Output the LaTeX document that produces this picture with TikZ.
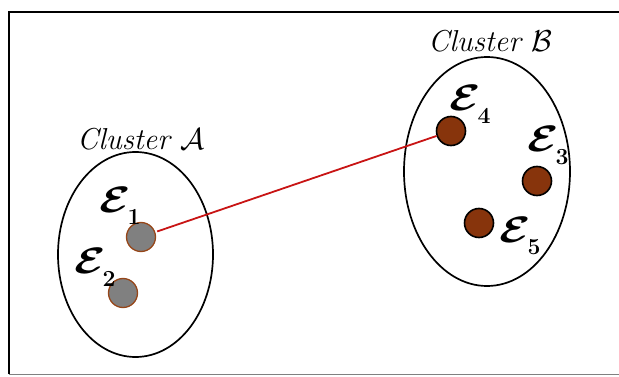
\RequirePackage{fix-cm}
\documentclass[tikz,border=0pt]{standalone}
\usepackage{amsmath,bm,graphicx}
\definecolor{dotgray}{RGB}{128,128,128}
\definecolor{dotrim}{RGB}{150,70,25}
\definecolor{dotbrown}{RGB}{135,52,12}
\definecolor{linkred}{RGB}{200,20,20}
\newcommand{\elabel}[1]{\fontsize{35}{35}\selectfont\scalebox{1.3}[1.05]{$\bm{\mathcal{E}}$}\kern-3pt\raisebox{-13pt}{\fontsize{23}{23}\selectfont$\bm{#1}$}}
\newcommand{\clabel}[1]{\scalebox{1.12}{\fontsize{27}{27}\selectfont\itshape Cluster $\mathcal{#1}$}}
\tikzset{
  cluster/.style={draw=black, line width=1.7pt},
  dotA/.style={circle, minimum size=29pt, inner sep=0pt, fill=dotgray, draw=dotrim, line width=1.3pt},
  dotB/.style={circle, minimum size=29pt, inner sep=0pt, fill=dotbrown, draw=black, line width=1.6pt},
  elab/.style={anchor=base west, inner sep=0pt},
  clab/.style={anchor=base west, inner sep=0pt},
  link/.style={draw=linkred, line width=1.8pt}
}
\begin{document}
\begin{tikzpicture}[x=1pt,y=-1pt]
\useasboundingbox (0,0) rectangle (619,377);
% frame
\draw[line width=2pt] (619,12) -- (8.5,12) -- (8.5,374);
\draw[line width=1pt, gray] (8.5,374.5) -- (619,374.5);
% clusters
\draw[cluster] (135.5,254.5) ellipse [x radius=77.5, y radius=102.5];
\draw[cluster] (487,171.5) ellipse [x radius=83, y radius=114.5];
\node[clab] (ca) at (77,150) {\clabel{A}};
\node[clab] (cb) at (428,52) {\clabel{B}};
% entities
\node[dotA] (e1) at (141,237) {};
\node[dotA] (e2) at (123,293) {};
\node[dotB] (e4) at (451,131) {};
\node[dotB] (e3) at (537,181) {};
\node[dotB] (e5) at (479,223) {};
\node[elab] (l1) at (99,212) {\elabel{1}};
\node[elab] (l2) at (74,273) {\elabel{2}};
\node[elab] (l4) at (449,111) {\elabel{4}};
\node[elab] (l3) at (527,152) {\elabel{3}};
\node[elab] (l5) at (499,242) {\elabel{5}};
% link
\draw[link, shorten <=2pt] (e1) -- (e4);
\end{tikzpicture}
\end{document}
